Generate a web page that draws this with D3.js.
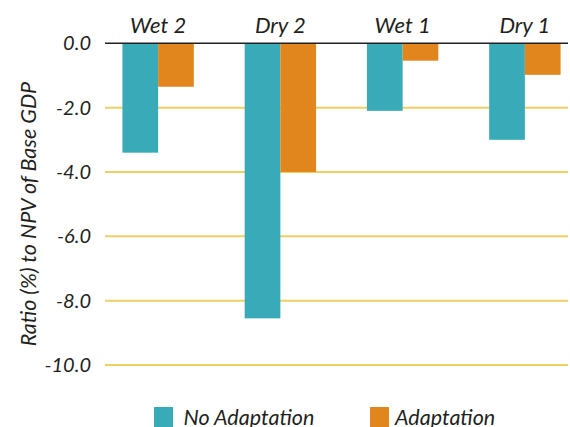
<!DOCTYPE html>
<html><head><meta charset="utf-8">
<script src="https://cdn.jsdelivr.net/npm/d3@7"></script>
<style>
html,body{margin:0;padding:0;background:#fff;}
text{font-family:Lato,"Open Sans",sans-serif;font-style:italic;fill:#231f20;}
</style></head>
<body><svg id="c" width="570" height="427"></svg>
<script>
const categories = ["Wet 2", "Dry 2", "Wet 1", "Dry 1"];
const seriesNames = ["No Adaptation", "Adaptation"];
const noAdaptation = [-3.4, -8.55, -2.1, -3.0];
const adaptation = [-1.35, -4.0, -0.54, -0.98];
const yTicks = [0, -2, -4, -6, -8, -10];
const colors = ["#39aab7", "#e1861d"];

const svg = d3.select("#c");
const y = d3.scaleLinear().domain([0, -10]).range([43.3, 365]);
const x0 = d3.scaleBand().domain(categories).range([97, 586]).paddingInner(0.416).paddingOuter(0.208);
const x1 = d3.scaleBand().domain(seriesNames).range([0, x0.bandwidth()]);
const plotL = 105, plotR = 568;

// gridlines
svg.append("g").selectAll("line").data(yTicks.filter(d => d !== 0)).join("line")
  .attr("x1", plotL).attr("x2", plotR)
  .attr("y1", d => y(d)).attr("y2", d => y(d))
  .attr("stroke", "#ecd062").attr("stroke-width", 2);

// y tick labels via axis
const yAxis = svg.append("g").attr("transform", `translate(${plotL},0)`)
  .call(d3.axisLeft(y).tickValues(yTicks).tickFormat(d3.format(".1f")).tickSize(0).tickPadding(14));
yAxis.select(".domain").remove();
yAxis.selectAll("text").style("font-size", "20px").attr("fill", "#231f20")
  .text(d => d === 0 ? "0.0" : d3.format(".1f")(d).replace("−", "-"));

const data = categories.map((c, i) => ({c, vals: [noAdaptation[i], adaptation[i]]}));
const g = svg.append("g").selectAll("g").data(data).join("g")
  .attr("transform", d => `translate(${x0(d.c)},0)`);
g.selectAll("rect").data(d => d.vals.map((v, j) => ({v, s: seriesNames[j], j}))).join("rect")
  .attr("x", d => x1(d.s)).attr("width", x1.bandwidth())
  .attr("y", y(0)).attr("height", d => y(d.v) - y(0))
  .attr("fill", d => colors[d.j]);

// zero line
svg.append("line").attr("x1", plotL).attr("x2", plotR).attr("y1", y(0)).attr("y2", y(0))
  .attr("stroke", "#231f20").attr("stroke-width", 1.5);

// category labels
svg.append("g").selectAll("text").data(categories).join("text")
  .attr("x", d => x0(d) + x0.bandwidth() / 2).attr("y", 33)
  .attr("text-anchor", "middle").style("font-size", "22px").text(d => d);

// y label
svg.append("text").attr("transform", "translate(36,214) rotate(-90)")
  .attr("text-anchor", "middle").style("font-size", "21.5px").text("Ratio (%) to NPV of Base GDP");

// legend
const legX = [154, 370];
const leg = svg.append("g").selectAll("g").data(seriesNames).join("g")
  .attr("transform", (d, i) => `translate(${legX[i]},407)`);
leg.append("rect").attr("width", 19).attr("height", 20).attr("fill", (d, i) => colors[i]);
leg.append("text").attr("x", (d, i) => i === 0 ? 29.5 : 25).attr("y", 18).style("font-size", "21.5px").text(d => d);
</script></body></html>
